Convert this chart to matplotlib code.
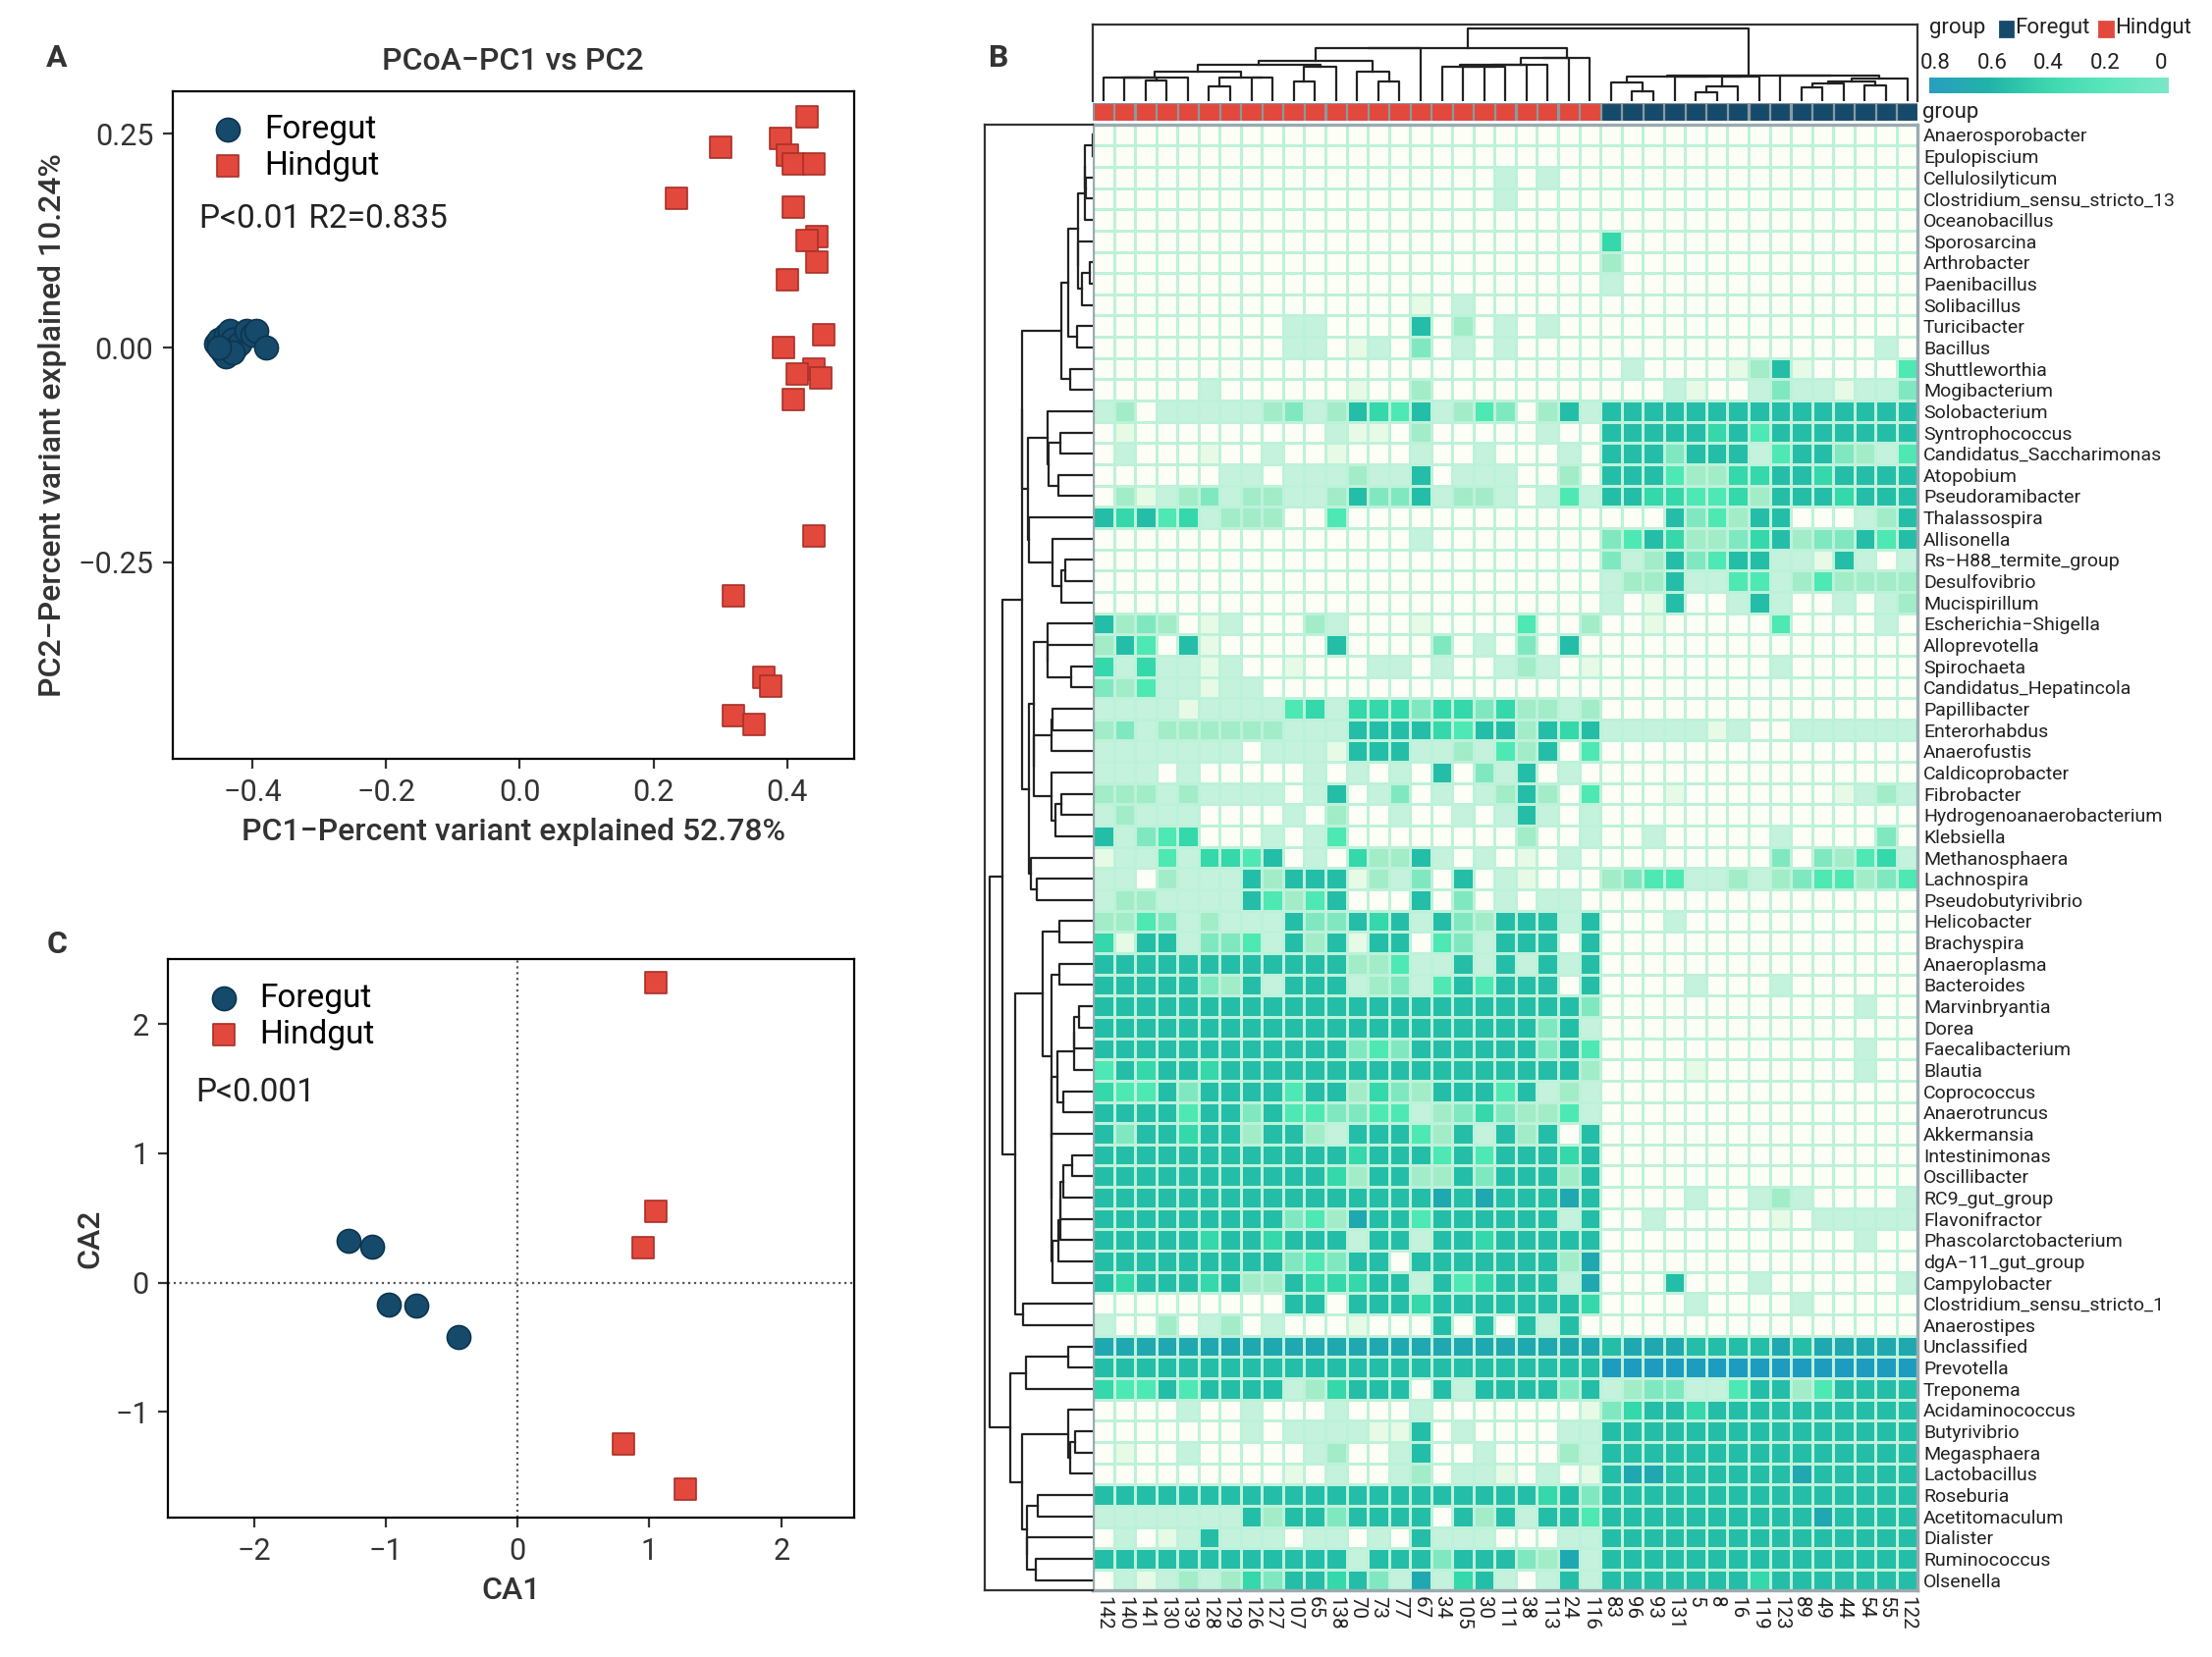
import numpy as np
import matplotlib
matplotlib.use("Agg")
import matplotlib.pyplot as plt
from matplotlib.colors import LinearSegmentedColormap
from matplotlib.patches import Rectangle

plt.rcParams['font.family'] = ['Roboto', 'DejaVu Sans']

RED = '#e2483c'
BLUE = '#164a6a'

# ---- panel A: PCoA
pcoa_fore_x = [-0.455, -0.45, -0.44, -0.435, -0.43, -0.445, -0.425, -0.42, -0.44, -0.41, -0.40, -0.395, -0.38, -0.43, -0.45]
pcoa_fore_y = [0.005, 0.01, 0.015, 0.02, 0.01, -0.005, 0.0, 0.005, -0.01, 0.02, 0.015, 0.02, 0.0, -0.005, 0.0]
pcoa_hind_x = [0.43, 0.30, 0.39, 0.40, 0.41, 0.44, 0.235, 0.41, 0.445, 0.43, 0.445, 0.40, 0.455, 0.395,
               0.44, 0.415, 0.45, 0.41, 0.44, 0.32, 0.365, 0.375, 0.32, 0.35]
pcoa_hind_y = [0.27, 0.235, 0.245, 0.225, 0.215, 0.215, 0.175, 0.165, 0.13, 0.125, 0.10, 0.08, 0.015, 0.0,
               -0.025, -0.03, -0.035, -0.06, -0.22, -0.29, -0.385, -0.395, -0.43, -0.44]

# ---- panel C: CA
ca_fore_x = [-1.28, -1.1, -0.98, -0.77, -0.45]
ca_fore_y = [0.32, 0.28, -0.17, -0.18, -0.42]
ca_hind_x = [1.05, 1.05, 0.95, 0.80, 1.27]
ca_hind_y = [2.32, 0.55, 0.27, -1.25, -1.6]

# ---- panel B: heatmap (levels 0-9, value = level / 10)
samples = ['142', '140', '141', '130', '139', '128', '129', '126', '127', '107', '65', '138', '70', '73',
           '77', '67', '34', '105', '30', '111', '38', '113', '24', '116',
           '83', '96', '93', '131', '5', '8', '16', '119', '123', '89', '49', '44', '54', '55', '122']
n_hind = 24
genera = ['Anaerosporobacter', 'Epulopiscium', 'Cellulosilyticum', 'Clostridium_sensu_stricto_13',
          'Oceanobacillus', 'Sporosarcina', 'Arthrobacter', 'Paenibacillus', 'Solibacillus', 'Turicibacter',
          'Bacillus', 'Shuttleworthia', 'Mogibacterium', 'Solobacterium', 'Syntrophococcus',
          'Candidatus_Saccharimonas', 'Atopobium', 'Pseudoramibacter', 'Thalassospira', 'Allisonella',
          'Rs\u2212H88_termite_group', 'Desulfovibrio', 'Mucispirillum', 'Escherichia\u2212Shigella',
          'Alloprevotella', 'Spirochaeta', 'Candidatus_Hepatincola', 'Papillibacter', 'Enterorhabdus',
          'Anaerofustis', 'Caldicoprobacter', 'Fibrobacter', 'Hydrogenoanaerobacterium', 'Klebsiella',
          'Methanosphaera', 'Lachnospira', 'Pseudobutyrivibrio', 'Helicobacter', 'Brachyspira',
          'Anaeroplasma', 'Bacteroides', 'Marvinbryantia', 'Dorea', 'Faecalibacterium', 'Blautia',
          'Coprococcus', 'Anaerotruncus', 'Akkermansia', 'Intestinimonas', 'Oscillibacter', 'RC9_gut_group',
          'Flavonifractor', 'Phascolarctobacterium', 'dgA\u221211_gut_group', 'Campylobacter',
          'Clostridium_sensu_stricto_1', 'Anaerostipes', 'Unclassified', 'Prevotella', 'Treponema',
          'Acidaminococcus', 'Butyrivibrio', 'Megasphaera', 'Lactobacillus', 'Roseburia', 'Acetitomaculum',
          'Dialister', 'Ruminococcus', 'Olsenella']
Z15 = '000000000000000'
Z24 = '000000000000000000000000'
hind_levels = [
    Z24, Z24, '000000000000000000020200', '000000000000000000020000', Z24, Z24, Z24, Z24,
    '000000000000000102000000', '000000000220000703020200', '000000000220120402020000', Z24,
    '000002000000100300000000', '230222223423765723540372', '010000000002110300000200',
    '020001002001000200200020', '000000220222322702220030', '031234233223744723320252',
    '767562333005000000000000', '000000000000000200000000', Z24, Z24, Z24,
    '734301200032000100005003', '375071000007000040204070', '626221200100022020023201',
    '435221220000000000000000', '222212222562666466463323', '342333333222777765773767',
    '222222202221777223253705', '222020000020202070427020', '333232222027024020237305',
    '232220000203002002027202', '724560002025000000003002', '122526657020633720201020',
    '220322273777132407021000', '233222275357000704020220', '335423222744767274377727',
    '617724452737177054277707', '777777777777335227272727', '777774372777234257577707',
    '777777777777777777777774', '777777777777777777777472', '777777777777454777777475',
    '576776777777777777777773', '655747777577364377757232', '777757747554455234643352',
    '747767737732777537273707', '777777777777677757577767', '777777777776377337477737',
    '777777777777777787877787', '777777777453877577777727', '777776776777277277677777',
    '777777777454770777777738', '767776733766677275677728', '000000000770777677777776',
    '200302302000100070707270', '888888888888888888888888', '777777777777777777777777',
    '655757777236777072777747', '000020020002000200000001', '000000020222211702000022',
    '010020000023002700200032', '000000000102002302210201', '777777777777777777777674',
    '222222273774777707372775', '020127222022020722200022', '777777777777277747774382',
    '021232364776742826720272']
fore_levels = [
    Z15, Z15, Z15, Z15, Z15, '600000000000000', '300000000000000', '200000000000000', Z15, Z15,
    '000000000000020', '020000137100005', '000210024221224', '777777777777777', '777776757777777',
    '777477725774325', '777533667767777', '776655637776777', '000745377000237', '457633467344757',
    '423745772217202', '233722552353333', '201700272002023', '001000005000020', Z15,
    '000000002000000', Z15, Z15, '222221200222222', Z15, Z15, '000100000001232', Z15,
    '002000002000040', '000000004043562', '345522323455345', Z15, '000200000000000', Z15, Z15,
    '000020002000000', '000000000000200', Z15, '000000000000200', '000010000000200', Z15, Z15, Z15,
    Z15, Z15, '000020023200002', '002000001022222', '000000000000200', Z15, '000700020000002',
    '000020000200000', Z15, '788877778788888', '999999999999999', '234422577357777',
    '467767777777777', '777777777777777', '777777777777777', '788777777877777', '777777777777777',
    '777777777787777', '777777777777777', '777777777777777', '777777767777777']

data = np.array([[int(c) for c in h + f] for h, f in zip(hind_levels, fore_levels)]) / 10.0


def seq_linkage(mat):
    # agglomerative clustering restricted to neighbours, keeps the display order
    clusters = [[i] for i in range(len(mat))]
    xs = [float(i) for i in range(len(mat))]
    hs = [0.0] * len(mat)
    links = []
    while len(clusters) > 1:
        best, bi = None, 0
        for i in range(len(clusters) - 1):
            a = mat[clusters[i]]
            b = mat[clusters[i + 1]]
            d = np.sqrt(((a[:, None, :] - b[None, :, :]) ** 2).sum(-1)).mean()
            if best is None or d < best:
                best, bi = d, i
        h = max(best, hs[bi], hs[bi + 1]) + 1e-3
        links.append((xs[bi], hs[bi], xs[bi + 1], hs[bi + 1], h))
        clusters[bi] = clusters[bi] + clusters.pop(bi + 1)
        xs[bi] = (xs[bi] + xs.pop(bi + 1)) / 2
        hs[bi] = h
        hs.pop(bi + 1)
    return links


fig = plt.figure(figsize=(11.265, 8.44), dpi=200)

leg_kw = dict(loc='upper left', frameon=False, fontsize=12, handletextpad=0.1, borderaxespad=0.2,
              labelspacing=0.15, borderpad=0.5, markerscale=1.0)

# ---- A
axA = fig.add_axes([0.078, 0.542, 0.308, 0.403])
axA.scatter(pcoa_fore_x, pcoa_fore_y, s=75, c=BLUE, marker='o', edgecolors='#0c3550', lw=0.6, label='Foregut', zorder=3)
axA.scatter(pcoa_hind_x, pcoa_hind_y, s=60, c=RED, marker='s', edgecolors='#a83028', lw=0.6, label='Hindgut', zorder=3)
axA.set_xlim(-0.52, 0.5)
axA.set_ylim(-0.48, 0.3)
axA.set_xticks([-0.4, -0.2, 0.0, 0.2, 0.4])
axA.set_xticklabels(['\u22120.4', '\u22120.2', '0.0', '0.2', '0.4'])
axA.set_yticks([-0.25, 0.0, 0.25])
axA.set_yticklabels(['\u22120.25', '0.00', '0.25'])
axA.set_title('PCoA\u2212PC1 vs PC2', fontsize=11.5, fontweight='medium', color='#333333', pad=8)
axA.set_xlabel('PC1\u2212Percent variant explained 52.78%', fontsize=11.5, fontweight='medium', color='#333333')
axA.set_ylabel('PC2\u2212Percent variant explained 10.24%', fontsize=11.5, fontweight='medium', color='#333333')
axA.legend(**leg_kw)
axA.text(0.04, 0.795, 'P<0.01 R2=0.835', transform=axA.transAxes, fontsize=12, color='#222222')
axA.tick_params(labelsize=11, colors='#333333')
fig.text(0.021, 0.96, 'A', fontsize=11.5, fontweight='bold', color='#333333')

# ---- C
axC = fig.add_axes([0.076, 0.084, 0.310, 0.337])
axC.axhline(0, color='#555555', ls=':', lw=0.8)
axC.axvline(0, color='#555555', ls=':', lw=0.8)
axC.scatter(ca_fore_x, ca_fore_y, s=75, c=BLUE, marker='o', edgecolors='#0c3550', lw=0.6, label='Foregut', zorder=3)
axC.scatter(ca_hind_x, ca_hind_y, s=60, c=RED, marker='s', edgecolors='#a83028', lw=0.6, label='Hindgut', zorder=3)
axC.set_xlim(-2.65, 2.55)
axC.set_ylim(-1.82, 2.5)
axC.set_xticks([-2, -1, 0, 1, 2])
axC.set_xticklabels(['\u22122', '\u22121', '0', '1', '2'])
axC.set_yticks([-1, 0, 1, 2])
axC.set_yticklabels(['\u22121', '0', '1', '2'])
axC.set_xlabel('CA1', fontsize=11.5, fontweight='medium', color='#333333')
axC.set_ylabel('CA2', fontsize=11.5, fontweight='medium', color='#333333')
axC.legend(**leg_kw)
axC.text(0.04, 0.745, 'P<0.001', transform=axC.transAxes, fontsize=12, color='#222222')
axC.tick_params(labelsize=11, colors='#333333')
fig.text(0.021, 0.425, 'C', fontsize=11.5, fontweight='bold', color='#333333')

# ---- B heatmap
cmap = LinearSegmentedColormap.from_list('hm', [
    (0.0, '#fdfff6'), (1 / 9, '#e6fae6'), (2 / 9, '#c4f2dc'), (3 / 9, '#a2ecc8'), (4 / 9, '#80e8c0'),
    (5 / 9, '#4ee8b4'), (6 / 9, '#34d8aa'), (7 / 9, '#24bfa8'), (8 / 9, '#20a8b0'), (1.0, '#1e9cc0')])
nr, nc = data.shape
hm_l, hm_r, hm_b, hm_t = 0.494, 0.867, 0.040, 0.925
axH = fig.add_axes([hm_l, hm_b, hm_r - hm_l, hm_t - hm_b])
axH.pcolormesh(np.arange(nc + 1), np.arange(nr + 1), data, cmap=cmap, vmin=0, vmax=0.9,
               edgecolors='#bdf2da', linewidth=0.4)
axH.set_xlim(0, nc)
axH.set_ylim(nr, 0)
axH.yaxis.tick_right()
axH.set_yticks(np.arange(nr) + 0.5)
axH.set_yticklabels(genera, fontsize=7, color='#222222')
axH.set_xticks(np.arange(nc) + 0.5)
axH.set_xticklabels(samples, fontsize=7.4, rotation=-90, color='#222222')
axH.tick_params(length=0, pad=2)
for s in axH.spines.values():
    s.set_color('#9aaab0')
    s.set_linewidth(1.2)

# group bar
axG = fig.add_axes([hm_l, 0.927, hm_r - hm_l, 0.011])
for i in range(nc):
    axG.add_patch(Rectangle((i + 0.12, 0.12), 0.76, 0.76, color=RED if i < n_hind else BLUE))
axG.set_facecolor('#8a9aa0')
axG.set_xlim(0, nc)
axG.set_ylim(0, 1)
axG.set_xticks([])
axG.set_yticks([])
for s in axG.spines.values():
    s.set_visible(False)
fig.text(hm_r + 0.002, 0.932, 'group', fontsize=8, va='center', color='#222222')

# column dendrogram
axD = fig.add_axes([hm_l, 0.939, hm_r - hm_l, 0.046])
for x1, h1, x2, h2, h in seq_linkage(data.T):
    axD.plot([x1 + 0.5, x1 + 0.5, x2 + 0.5, x2 + 0.5], [h1, h, h, h2], color='#222222', lw=0.8)
axD.set_xlim(0, nc)
axD.set_ylim(0, None)
axD.set_xticks([])
axD.set_yticks([])
for k, s in axD.spines.items():
    s.set_visible(k in ('left', 'right', 'top'))
    s.set_color('#333333')

# row dendrogram
axR = fig.add_axes([0.445, hm_b, hm_l - 0.445, hm_t - hm_b])
for y1, h1, y2, h2, h in seq_linkage(data):
    axR.plot([-h1, -h, -h, -h2], [y1 + 0.5, y1 + 0.5, y2 + 0.5, y2 + 0.5], color='#222222', lw=0.8)
axR.set_ylim(nr, 0)
lo = axR.get_xlim()[0]
axR.set_xlim(lo, 0)
axR.set_xticks([])
axR.set_yticks([])
for k, s in axR.spines.items():
    s.set_visible(k in ('left', 'top', 'bottom'))
    s.set_color('#333333')
fig.text(0.447, 0.96, 'B', fontsize=11.5, fontweight='bold', color='#333333')

# legend + colorbar
fig.text(0.872, 0.983, 'group', fontsize=8, va='center', color='#222222')
fig.patches.append(Rectangle((0.904, 0.978), 0.006, 0.009, transform=fig.transFigure, color=BLUE))
fig.text(0.911, 0.983, 'Foregut', fontsize=8, va='center', color='#222222')
fig.patches.append(Rectangle((0.949, 0.978), 0.006, 0.009, transform=fig.transFigure, color=RED))
fig.text(0.956, 0.983, 'Hindgut', fontsize=8, va='center', color='#222222')

cbar_ticks = [0.8, 0.6, 0.4, 0.2, 0]
cb_cmap = LinearSegmentedColormap.from_list('cb', ['#2a9ec0', '#22b4a8', '#3ed8b0', '#5ce6bc', '#7ae8c8'])
axCB = fig.add_axes([0.872, 0.944, 0.108, 0.009])
axCB.imshow(np.linspace(0, 1, 200)[None, :], aspect='auto', cmap=cb_cmap, extent=[0.8, 0, 0, 1])
axCB.set_xlim(0.8, 0)
axCB.set_yticks([])
axCB.set_xticks([])
for s in axCB.spines.values():
    s.set_visible(False)
for t in cbar_ticks:
    fig.text(0.875 + (0.8 - t) / 0.8 * 0.102, 0.962, ('%g' % t), fontsize=8, ha='center', va='center', color='#222222')

fig.savefig('out.png', dpi=200)
